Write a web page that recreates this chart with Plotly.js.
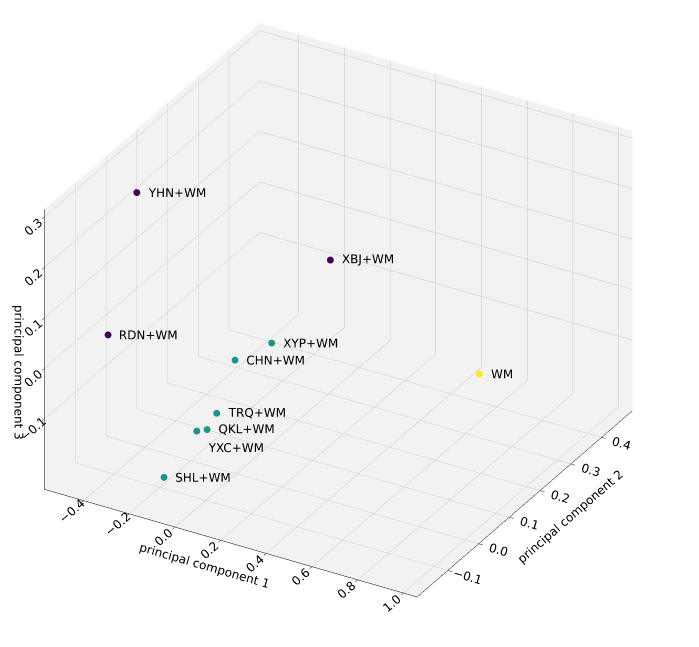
<!DOCTYPE html>
<html>
<head>
<meta charset="utf-8">
<script src="https://cdn.plot.ly/plotly-3.0.1.min.js"></script>
<style>
html,body{margin:0;padding:0;background:#fff;}
#chart{width:699px;height:647px;}
#diag{position:absolute;top:0;left:0;font:12px sans-serif;color:red;}
</style>
</head>
<body>
<div id="chart"></div>
<div id="diag"></div>
<script>
// Data (principal components of each treatment)
const labels = ['YHN+WM','XBJ+WM','RDN+WM','XYP+WM','CHN+WM','WM','TRQ+WM','QKL+WM','YXC+WM','SHL+WM'];
const pc1 = [-0.402, -0.026, -0.462, 0.188, 0.056, 0.956, 0.004, -0.019, -0.055, -0.123];
const pc2 = [-0.025, 0.325, -0.074, -0.025, -0.046, 0.080, -0.067, -0.081, -0.088, -0.144];
const pc3 = [0.278, 0.009, 0.014, 0.057, 0.017, 0.041, -0.084, -0.112, -0.116, -0.187];
const cluster = [0, 0, 0, 1, 1, 2, 1, 1, 1, 1];
const labelPos = ['middle right','middle right','middle right','middle right','middle right','middle right','middle right','middle right','bottom right','middle right'];

const xTicks = [-0.4, -0.2, 0.0, 0.2, 0.4, 0.6, 0.8, 1.0];
const yTicks = [-0.1, 0.0, 0.1, 0.2, 0.3, 0.4];
const zTicks = [-0.1, 0.0, 0.1, 0.2, 0.3];

const clusterColors = ['#440154', '#21918c', '#fde725'];

const trace = {
  type: 'scatter3d',
  mode: 'markers+text',
  x: pc1, y: pc2, z: pc3,
  text: labels,
  textposition: labelPos,
  textfont: {family: 'DejaVu Sans', size: 12, color: '#000'},
  marker: {size: 4, color: cluster.map(c => clusterColors[c]), opacity: 1},
  hoverinfo: 'text'
};

function axis(title, ticks, range) {
  return {
    title: {text: title, font: {family: 'DejaVu Sans', size: 12, color: '#000'}},
    range: range,
    autorange: false,
    tickvals: ticks,
    ticktext: ticks.map(v => (v < 0 ? '\u2212' : '') + Math.abs(v).toFixed(1)),
    tickfont: {family: 'DejaVu Sans', size: 12, color: '#000'},
    showbackground: true,
    backgroundcolor: 'rgb(242,242,242)',
    gridcolor: 'rgb(200,200,200)',
    gridwidth: 1,
    showline: true,
    linecolor: '#000',
    linewidth: 1,
    zeroline: false,
    ticks: 'outside',
    ticklen: 5,
    tickcolor: '#000',
    showspikes: false
  };
}

const layout = {
  width: 699, height: 647,
  margin: {l: 0, r: 0, t: 0, b: 0},
  paper_bgcolor: '#fff',
  showlegend: false,
  scene: {
    domain: {x: [0, 1], y: [0, 1]},
    aspectmode: 'manual',
    aspectratio: {x: 1.33, y: 1.33, z: 1.0},
    camera: {
      eye: {x: 0.638, y: -1.036, z: 0.654},
      center: {x: 0.040, y: -0.001, z: -0.036},
      up: {x: 0, y: 0, z: 1},
      projection: {type: 'orthographic'}
    },
    xaxis: axis('principal component 1', xTicks, [-0.57, 1.06]),
    yaxis: axis('principal component 2', yTicks, [-0.2, 0.5]),
    zaxis: axis('principal component 3', zTicks, [-0.24, 0.315])
  }
};

window.onerror = function(m){ document.getElementById('diag').textContent += ' err: ' + m; };
Plotly.newPlot('chart', [trace], layout, {displayModeBar: false})
  .catch(function(e){ document.getElementById('diag').textContent += ' catch: ' + e; });
</script>
</body>
</html>
